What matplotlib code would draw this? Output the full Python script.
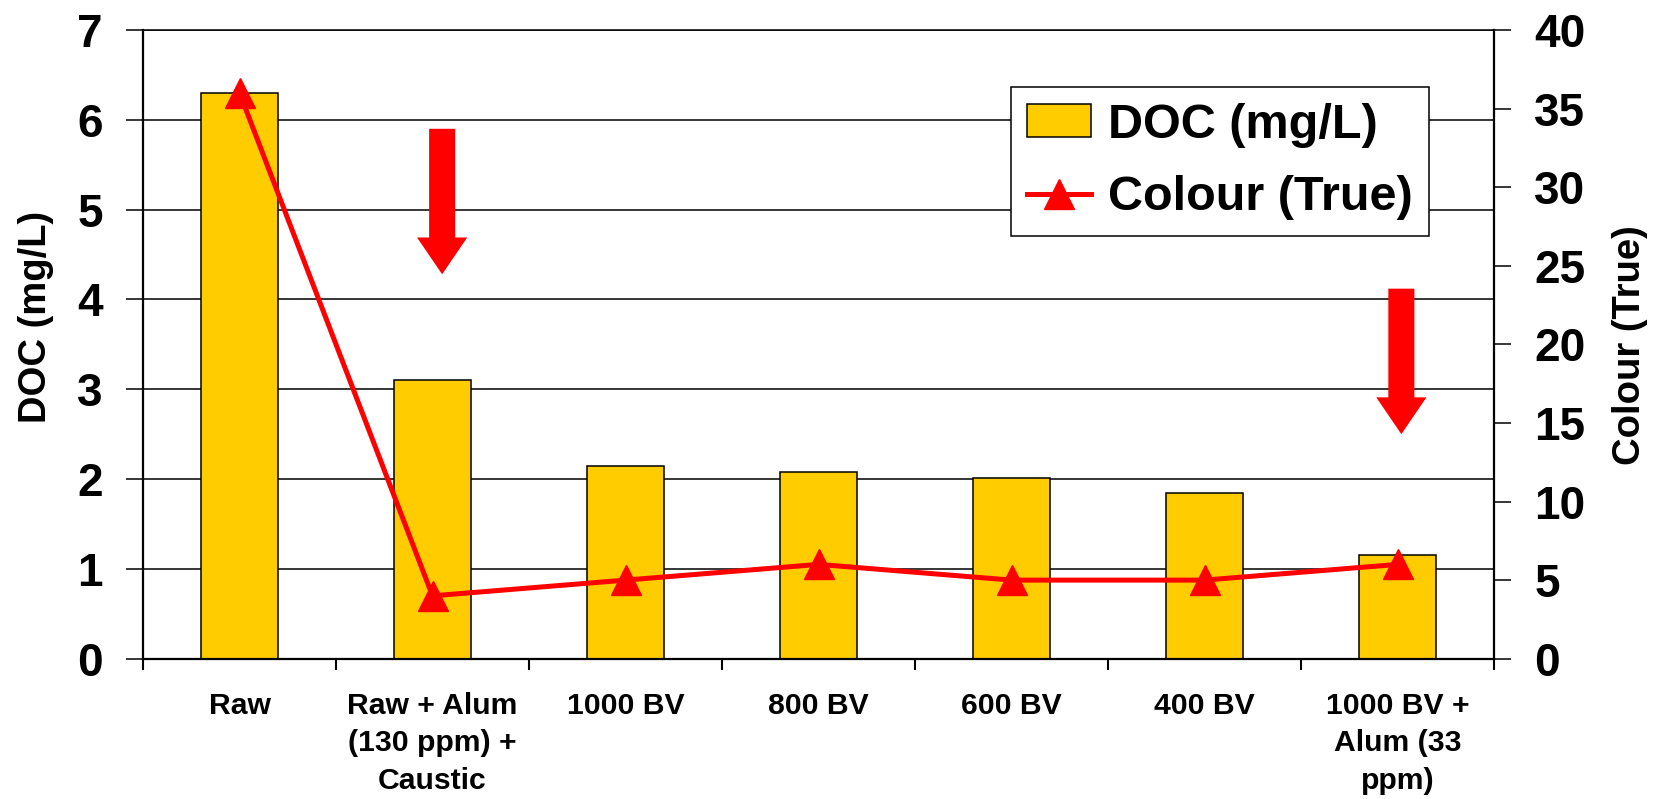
import matplotlib
matplotlib.use("Agg")
import matplotlib.pyplot as plt
from matplotlib.patches import FancyArrow, Patch
from matplotlib.lines import Line2D
import numpy as np

# Treatment stages and measurements
categories = [
    "Raw",
    "Raw + Alum\n(130 ppm) +\nCaustic",
    "1000 BV",
    "800 BV",
    "600 BV",
    "400 BV",
    "1000 BV +\nAlum (33\nppm)",
]
doc_mg_l = [6.3, 3.1, 2.15, 2.08, 2.01, 1.85, 1.16]
colour_true = [36, 4, 5, 6, 5, 5, 6]
doc_ticks = list(range(0, 8))
colour_ticks = list(range(0, 45, 5))

plt.rcParams["font.family"] = ["Liberation Sans", "DejaVu Sans"]
plt.rcParams["font.weight"] = "bold"

W, H = 1663, 799
fig = plt.figure(figsize=(W / 100, H / 100), dpi=100)
left_px, right_px, top_px, bottom_px = 143, 1494, 30, 658.7
ax = fig.add_axes([left_px / W, 1 - bottom_px / H,
                   (right_px - left_px) / W, (bottom_px - top_px) / H])

bar_color = "#FFCC00"
line_color = "#FF0000"

x = np.arange(len(categories))
ax.bar(x, doc_mg_l, width=0.4, color=bar_color, edgecolor="black",
       linewidth=1.1, zorder=2)
ax.set_xlim(-0.5, len(categories) - 0.5)
ax.set_ylim(0, 7)
ax.set_yticks(doc_ticks)
ax.set_yticklabels([str(t) for t in doc_ticks], fontsize=33, fontweight="bold")
ax.yaxis.grid(True, color="black", linewidth=1.1)
ax.set_axisbelow(True)
ax.tick_params(axis="y", which="major", direction="out", length=12,
               width=1.1, pad=17)

# category boundaries carry the tick marks, centres carry the labels
ax.set_xticks(np.arange(-0.5, len(categories), 1.0))
ax.set_xticklabels([])
ax.set_xticks(x, minor=True)
ax.set_xticklabels(categories, minor=True, fontsize=21.7, fontweight="bold",
                   linespacing=1.42)
ax.tick_params(axis="x", which="major", direction="out", length=8, width=1.5)
ax.tick_params(axis="x", which="minor", length=0, pad=24)

for side in ("left", "bottom"):
    ax.spines[side].set_linewidth(1.6)
ax.spines["top"].set_linewidth(1.1)
ax.spines["right"].set_visible(False)

ax2 = ax.twinx()
ax2.plot(x, colour_true, color=line_color, linewidth=3.6, marker="^",
         markersize=21, markerfacecolor=line_color, markeredgecolor=line_color,
         zorder=4)
ax2.set_ylim(0, 40)
ax2.set_yticks(colour_ticks)
ax2.set_yticklabels([str(t) for t in colour_ticks], fontsize=33,
                    fontweight="bold")
ax2.tick_params(axis="y", direction="out", length=12, width=1.1, pad=17)
ax2.spines["right"].set_linewidth(1.6)
for side in ("left", "top", "bottom"):
    ax2.spines[side].set_visible(False)

# downward arrows marking the reductions
for ax_x, y_top, y_tip in [(1.05, 5.90, 4.28), (6.02, 4.12, 2.50)]:
    head_len = 0.41
    ax.add_patch(FancyArrow(ax_x, y_top, 0, -(y_top - y_tip), width=0.135,
                            head_width=0.26, head_length=head_len,
                            length_includes_head=True, color=line_color,
                            linewidth=0, zorder=5))

fig.text(36 / W, 1 - 316.5 / H, "DOC (mg/L)", rotation=90, ha="center",
         va="center", fontsize=27.5, fontweight="bold")
fig.text(1630 / W, 1 - 345 / H, "Colour (True)", rotation=90, ha="center",
         va="center", fontsize=27.5, fontweight="bold")

handles = [
    Patch(facecolor=bar_color, edgecolor="black", linewidth=1.1),
    Line2D([0], [0], color=line_color, linewidth=3.6, marker="^",
           markersize=21, markerfacecolor=line_color,
           markeredgecolor=line_color),
]
leg = ax2.legend(handles, ["DOC (mg/L)", "Colour (True)"], loc="upper left",
                 bbox_to_anchor=((1010.7 - left_px) / (right_px - left_px),
                                 (bottom_px - 86.7) / (bottom_px - top_px)),
                 borderaxespad=0, fancybox=False, framealpha=1,
                 edgecolor="black", fontsize=35, handlelength=1.32,
                 handleheight=0.65, handletextpad=0.35, labelspacing=0.57,
                 borderpad=0.33)
for t in leg.get_texts():
    t.set_fontweight("bold")
leg.get_frame().set_linewidth(1.1)
leg.set_zorder(10)

fig.savefig("out.png", dpi=100)
